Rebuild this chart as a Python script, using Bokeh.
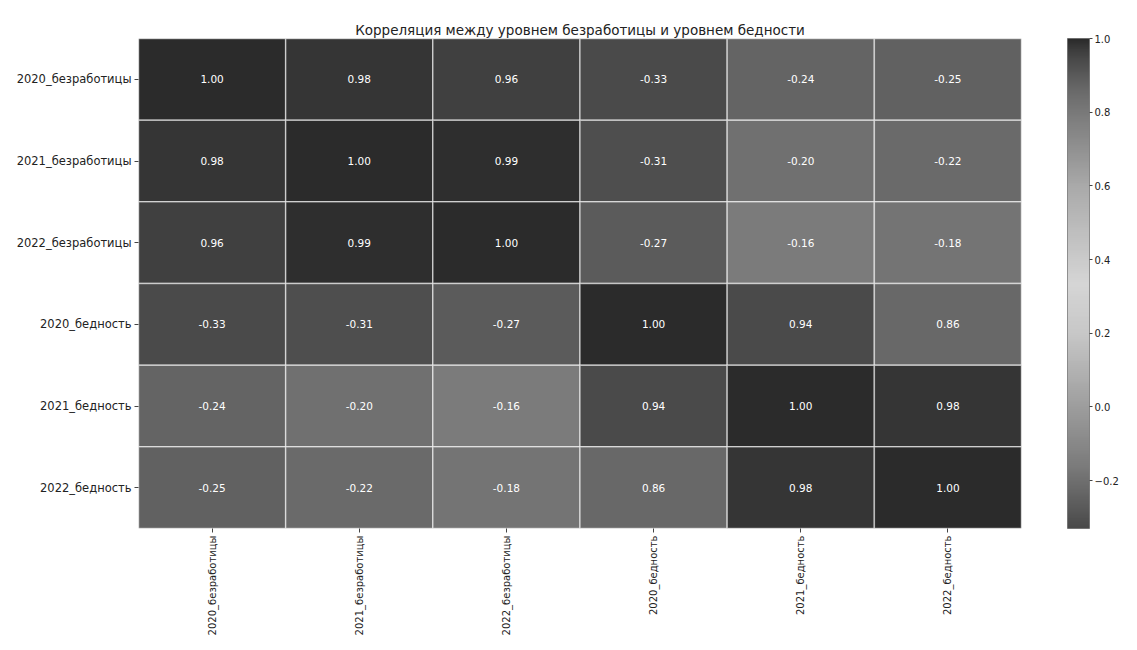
import math
import numpy as np
from bokeh.plotting import figure
from bokeh.models import ColumnDataSource, LinearColorMapper, ColorBar, FixedTicker, FactorRange
from bokeh.core.properties import value
from bokeh.embed import file_html
from bokeh.resources import INLINE

labels = ["2020_безработицы", "2021_безработицы", "2022_безработицы",
          "2020_бедность", "2021_бедность", "2022_бедность"]

row0 = [1.00, 0.98, 0.96, -0.33, -0.24, -0.25]
row1 = [0.98, 1.00, 0.99, -0.31, -0.20, -0.22]
row2 = [0.96, 0.99, 1.00, -0.27, -0.16, -0.18]
row3 = [-0.33, -0.31, -0.27, 1.00, 0.94, 0.86]
row4 = [-0.24, -0.20, -0.16, 0.94, 1.00, 0.98]
row5 = [-0.25, -0.22, -0.18, 0.86, 0.98, 1.00]
rows = [row0, row1, row2, row3, row4, row5]

cbar_ticks = [-0.2, 0.0, 0.2, 0.4, 0.6, 0.8, 1.0]
cbar_labels = ["−0.2", "0.0", "0.2", "0.4", "0.6", "0.8", "1.0"]

# diverging grey palette (style)
anch_v = [-0.33, -0.27, -0.2, -0.16, 0.0, 0.2, 0.335, 0.6, 0.8, 0.86, 0.94, 0.98, 1.0]
anch_g = [74, 92, 112, 124, 158, 200, 214, 170, 122, 106, 76, 56, 43]
vmin, vmax = -0.33, 1.0
vs = np.linspace(vmin, vmax, 256)
gs = np.interp(vs, anch_v, anch_g)
palette = ["#%02x%02x%02x" % (int(g), int(g), int(g)) for g in gs]

xs, ys, vals, txt = [], [], [], []
for i, r in enumerate(rows):
    for j, v in enumerate(r):
        xs.append(labels[j]); ys.append(labels[i]); vals.append(v); txt.append("%.2f" % v)
src = ColumnDataSource(dict(x=xs, y=ys, v=vals, t=txt))

mapper = LinearColorMapper(palette=palette, low=vmin, high=vmax)

p = figure(width=1121, height=640, output_backend="svg", toolbar_location=None,
           x_range=FactorRange(*labels), y_range=FactorRange(*labels[::-1]),
           title="Корреляция между уровнем безработицы и уровнем бедности",
           min_border_left=138, min_border_right=100, min_border_bottom=112, min_border_top=38)
p.title.align = "center"
p.title.text_font = "DejaVu Sans"
p.title.text_font_size = "13.5px"
p.title.text_font_style = "normal"
p.title.text_color = "#222222"
p.title.standoff = 2

p.rect(x="x", y="y", width=1, height=1, source=src,
       fill_color={"field": "v", "transform": mapper},
       line_color="white", line_alpha=0.55, line_width=1.5)
p.text(x="x", y="y", text="t", source=src, text_align="center", text_baseline="middle",
       text_color="white", text_font_size="10.5px", text_font=value("DejaVu Sans"))

p.grid.visible = False
p.outline_line_color = None
for ax in (p.xaxis[0], p.yaxis[0]):
    ax.axis_line_color = None
    ax.major_tick_out = 4
    ax.major_tick_in = 0
    ax.minor_tick_line_color = None
    ax.major_label_text_font = "DejaVu Sans"
    ax.major_label_text_color = "#222222"
    ax.major_tick_line_color = "#444444"
    ax.major_label_standoff = 3
p.yaxis.major_label_text_font_size = "11.5px"
p.xaxis.major_label_text_font_size = "10px"
p.xaxis.major_label_orientation = math.pi / 2
p.x_range.range_padding = 0
p.y_range.range_padding = 0

cb = ColorBar(color_mapper=mapper, width=22, height=490, location=(929, 0),
              ticker=FixedTicker(ticks=cbar_ticks),
              major_label_overrides=dict(zip(cbar_ticks, cbar_labels)),
              major_label_text_font="DejaVu Sans", major_label_text_font_size="10px",
              major_label_text_color="#222222",
              major_tick_out=3, major_tick_in=0, major_tick_line_color="#444444",
              bar_line_color="#555555", bar_line_alpha=0.6, label_standoff=2,
              margin=0, padding=0, background_fill_alpha=0, border_line_color=None)
p.add_layout(cb, "center")

open("out.html", "w").write(file_html(p, INLINE))
